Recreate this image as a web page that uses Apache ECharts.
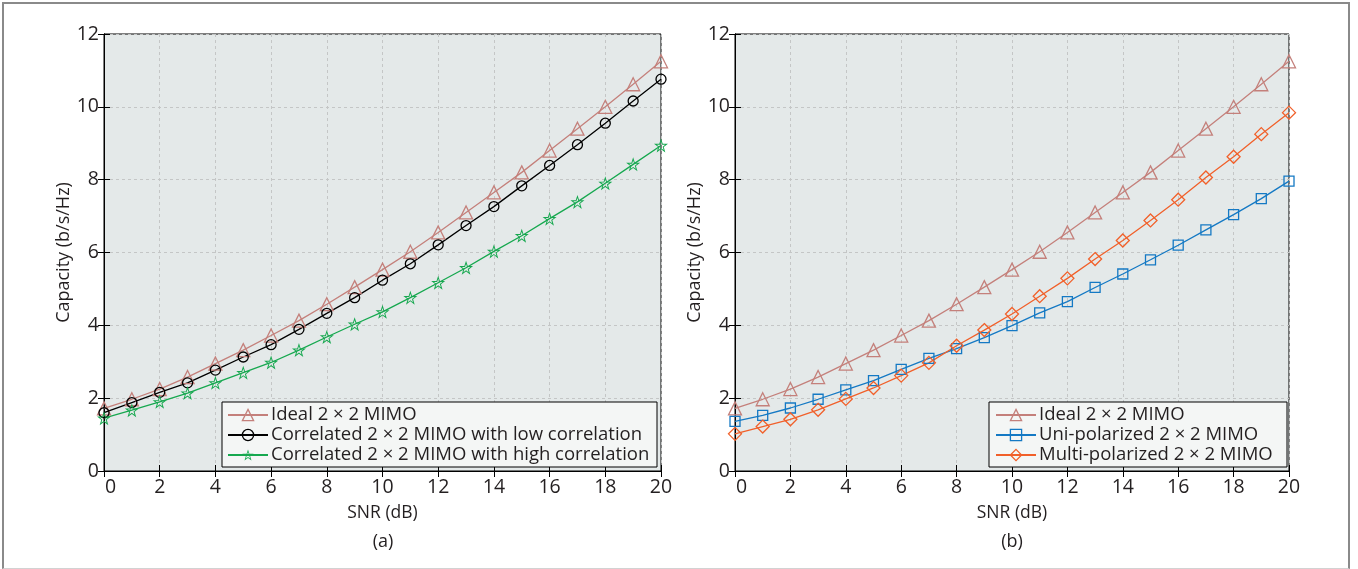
<!DOCTYPE html>
<html>
<head>
<meta charset="utf-8">
<script src="https://cdn.jsdelivr.net/npm/echarts@6/dist/echarts.min.js"></script>
<style>
html,body{margin:0;padding:0;background:#fff;}
#frame{position:absolute;left:2px;top:2px;width:1348px;height:567px;box-sizing:border-box;border:2px solid #8a8a8a;border-bottom:1px solid #d2d2d2;}
#chart{position:absolute;left:0;top:0;width:1358px;height:569px;}
</style>
</head>
<body>
<div id="frame"></div>
<div id="chart"></div>
<script>
// ---- data ----
const snr = [0,1,2,3,4,5,6,7,8,9,10,11,12,13,14,15,16,17,18,19,20];
const idealCap    = [1.72,1.97,2.25,2.58,2.95,3.32,3.72,4.13,4.58,5.05,5.53,6.02,6.55,7.10,7.65,8.20,8.80,9.40,10.00,10.62,11.25];
const lowCorrCap  = [1.60,1.88,2.16,2.42,2.77,3.13,3.47,3.89,4.33,4.76,5.24,5.69,6.21,6.74,7.26,7.83,8.39,8.96,9.55,10.16,10.76];
const highCorrCap = [1.45,1.67,1.90,2.14,2.42,2.70,2.98,3.32,3.68,4.03,4.37,4.76,5.17,5.58,6.03,6.46,6.93,7.39,7.90,8.42,8.94];
const uniPolCap   = [1.36,1.53,1.73,1.97,2.23,2.48,2.79,3.09,3.36,3.66,3.99,4.34,4.65,5.04,5.41,5.80,6.20,6.62,7.04,7.48,7.96];
const multiPolCap = [1.02,1.22,1.42,1.68,1.98,2.28,2.62,2.97,3.44,3.87,4.31,4.80,5.29,5.82,6.33,6.88,7.45,8.06,8.63,9.25,9.84];
const xTicks = [0,2,4,6,8,10,12,14,16,18,20];
const yTicks = [0,2,4,6,8,10,12];
const legendA = ['Ideal 2 × 2 MIMO','Correlated 2 × 2 MIMO with low correlation','Correlated 2 × 2 MIMO with high correlation'];
const legendB = ['Ideal 2 × 2 MIMO ','Uni-polarized 2 × 2 MIMO','Multi-polarized 2 × 2 MIMO'];
const xTitle = 'SNR (dB)';
const yTitle = 'Capacity (b/s/Hz)';
const panelTags = ['(a)','(b)'];

const FONT = '"Open Sans", "Noto Sans", sans-serif';
const TXT = '#231f20';
const C_IDEAL = '#c4807b', C_LOW = '#000000', C_HIGH = '#16a84f', C_UNI = '#1479c4', C_MULTI = '#f1602a';
const CLEAR = 'rgba(0,0,0,0)';

// hollow star outline symbol (outer star + reversed inner star = ring)
const starOuter = [[50,2],[61.8,36.6],[98,36.6],[68.8,58],[79.8,93],[50,71.5],[20.2,93],[31.2,58],[2,36.6],[38.2,36.6]];
const starK = 0.6, scx = 50, scy = 52.4;
const starInner = starOuter.map(p => [scx + starK*(p[0]-scx), scy + starK*(p[1]-scy)]).reverse();
const ring = pts => 'M' + pts.map(p => p[0].toFixed(2)+','+p[1].toFixed(2)).join(' L') + ' Z';
const STAR = 'path://' + ring(starOuter) + ' ' + ring(starInner);

const pairs = arr => snr.map((x,i)=>[x, arr[i]]);

const grids = [
  {left:104, top:34, width:557, height:437},
  {left:735, top:34, width:554, height:437}
];

function xAxes(gi){
  return [
    {type:'value', gridIndex:gi, min:0, max:20, interval:2, position:'bottom',
     axisLine:{show:true, lineStyle:{color:'#000', width:1}},
     axisTick:{show:true, inside:true, length:6, lineStyle:{color:'#000'}},
     axisLabel:{color:TXT, fontFamily:FONT, fontSize:19.5, margin:6,
       formatter: v => v===0 ? '{z|0}' : String(v),
       rich:{z:{padding:[0,0,0,13], fontSize:19.5, fontFamily:FONT, color:TXT}}},
     splitLine:{show:true, lineStyle:{color:'#c4c6c6', type:[3,3], width:1}},
     name:xTitle, nameLocation:'middle', nameGap:33,
     nameTextStyle:{color:TXT, fontFamily:FONT, fontSize:17.5}},
    {type:'value', gridIndex:gi, min:0, max:20, interval:2, position:'top',
     axisLine:{show:true, lineStyle:{color:'#000', width:1}},
     axisTick:{show:true, inside:true, length:6, lineStyle:{color:'#000'}},
     axisLabel:{show:false}, splitLine:{show:false}}
  ];
}
function yAxes(gi){
  return [
    {type:'value', gridIndex:gi, min:0, max:12, interval:2, position:'left',
     axisLine:{show:true, lineStyle:{color:'#000', width:1}},
     axisTick:{show:true, inside:true, length:6, lineStyle:{color:'#000'}},
     axisLabel:{color:TXT, fontFamily:FONT, fontSize:19.5, margin:5},
     splitLine:{show:true, lineStyle:{color:'#c4c6c6', type:[3,3], width:1}},
     name:yTitle, nameLocation:'middle', nameGap:28, nameRotate:90,
     nameTextStyle:{color:TXT, fontFamily:FONT, fontSize:18}},
    {type:'value', gridIndex:gi, min:0, max:12, interval:2, position:'right',
     axisLine:{show:true, lineStyle:{color:'#000', width:1}},
     axisTick:{show:true, inside:true, length:6, lineStyle:{color:'#000'}},
     axisLabel:{show:false}, splitLine:{show:false}}
  ];
}

function mk(name, data, color, symbol, size, xi, yi, solidRing){
  return {type:'line', name:name, data:pairs(data), xAxisIndex:xi, yAxisIndex:yi,
    symbol:symbol, symbolSize:size, showAllSymbol:true, animation:false,
    lineStyle:{color:color, width:1.3},
    itemStyle: solidRing ? {color:color, borderWidth:0} : {color:CLEAR, borderColor:color, borderWidth:1.3},
    emphasis:{disabled:true}, z:3};
}
const legItem = (n, c, solidRing) => ({name:n, itemStyle: solidRing ? {color:c, borderWidth:0} : {color:CLEAR, borderColor:c, borderWidth:1.3}});

const chart = echarts.init(document.getElementById('chart'), null, {renderer:'canvas'});
const legendCommon = {orient:'vertical', itemGap:0, itemWidth:40, itemHeight:14,
  padding:0, textStyle:{color:TXT, fontFamily:FONT, fontSize:18.5, lineHeight:20, padding:[0,0,0,-2]},
  selectedMode:false, z:8};

chart.setOption({
  backgroundColor:'transparent',
  animation:false,
  grid: grids.map(g => Object.assign({show:true, backgroundColor:'#e4e9e9', borderColor:'#000', borderWidth:1}, g)),
  xAxis: xAxes(0).concat(xAxes(1)),
  yAxis: yAxes(0).concat(yAxes(1)),
  legend: [
    Object.assign({left:227, top:405, data:[legItem(legendA[0],C_IDEAL), legItem(legendA[1],C_LOW), legItem(legendA[2],C_HIGH,true)]}, legendCommon),
    Object.assign({left:995, top:405, data:[legItem(legendB[0],C_IDEAL), legItem(legendB[1],C_UNI), legItem(legendB[2],C_MULTI)]}, legendCommon)
  ],
  graphic: [
    {type:'rect', shape:{x:222, y:402, width:435, height:65}, style:{fill:'#f4f6f5', stroke:'#000', lineWidth:1}, z:6},
    {type:'rect', shape:{x:989, y:402, width:298, height:65}, style:{fill:'#f4f6f5', stroke:'#000', lineWidth:1}, z:6},
    {type:'text', x:383, y:542, style:{text:panelTags[0], fill:TXT, font:'18px '+FONT, textAlign:'center', textVerticalAlign:'middle'}, z:6},
    {type:'text', x:1012, y:542, style:{text:panelTags[1], fill:TXT, font:'18px '+FONT, textAlign:'center', textVerticalAlign:'middle'}, z:6}
  ],
  series: [
    mk(legendA[0], idealCap, C_IDEAL, 'triangle', 13, 0, 0),
    mk(legendA[1], lowCorrCap, C_LOW, 'circle', 10, 0, 0),
    mk(legendA[2], highCorrCap, C_HIGH, STAR, 14, 0, 0, true),
    mk(legendB[0], idealCap, C_IDEAL, 'triangle', 13, 2, 2),
    mk(legendB[1], uniPolCap, C_UNI, 'rect', 10, 2, 2),
    mk(legendB[2], multiPolCap, C_MULTI, 'diamond', 13, 2, 2)
  ]
});
</script>
</body>
</html>
